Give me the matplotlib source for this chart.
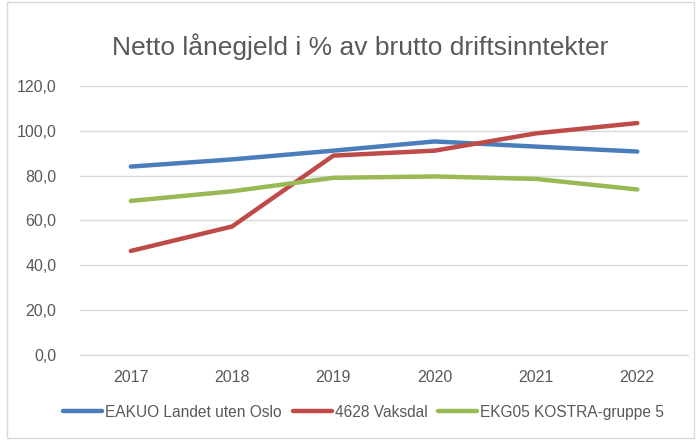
import matplotlib
matplotlib.use('Agg')
import matplotlib.pyplot as plt
from matplotlib.patches import Rectangle

years = ['2017', '2018', '2019', '2020', '2021', '2022']
landet = [84.0, 87.2, 91.1, 95.2, 92.9, 90.7]
vaksdal = [46.4, 57.3, 88.9, 91.1, 98.8, 103.4]
kostra = [68.7, 73.0, 79.0, 79.6, 78.5, 73.8]

series = [
    ('EAKUO Landet uten Oslo', landet, '#4A7EBB'),
    ('4628 Vaksdal', vaksdal, '#BE4B48'),
    ('EKG05 KOSTRA-gruppe 5', kostra, '#98B954'),
]

plt.rcParams['font.family'] = ['Liberation Sans', 'DejaVu Sans']
txt = '#595959'

fig = plt.figure(figsize=(6.97, 4.4), dpi=100)
fig.patches.append(Rectangle((0.01, 0.004), 0.985, 0.992, transform=fig.transFigure,
                             fill=False, edgecolor='#D9D9D9', linewidth=1))
ax = fig.add_axes([0.115, 0.193, 0.872, 0.612])

x = range(len(years))
for name, vals, col in series:
    ax.plot(x, vals, color=col, linewidth=3.2, label=name, solid_capstyle='round')

ax.set_xlim(-0.5, len(years) - 0.5)
ax.set_ylim(0, 120)
ax.set_yticks(range(0, 121, 20))
ax.set_yticklabels([f'{v},0' for v in range(0, 121, 20)])
ax.set_xticks(list(x))
ax.set_xticklabels(years)
ax.grid(axis='y', color='#D9D9D9', linewidth=1)
ax.set_axisbelow(True)
for s in ['top', 'right', 'left']:
    ax.spines[s].set_visible(False)
ax.spines['bottom'].set_color('#D9D9D9')
ax.tick_params(length=0, colors=txt, labelsize=11.5)
ax.tick_params(axis='x', pad=11)
ax.tick_params(axis='y', pad=17)

fig.text(0.517, 0.895, 'Netto lånegjeld i % av brutto driftsinntekter',
         ha='center', va='center', fontsize=19, color=txt)

fig.legend(loc='center', bbox_to_anchor=(0.522, 0.063), ncol=3, frameon=False,
           fontsize=11.2, handlelength=2.5, handletextpad=0.2, columnspacing=0.7,
           labelcolor=txt)

fig.savefig('out.png', dpi=100)
